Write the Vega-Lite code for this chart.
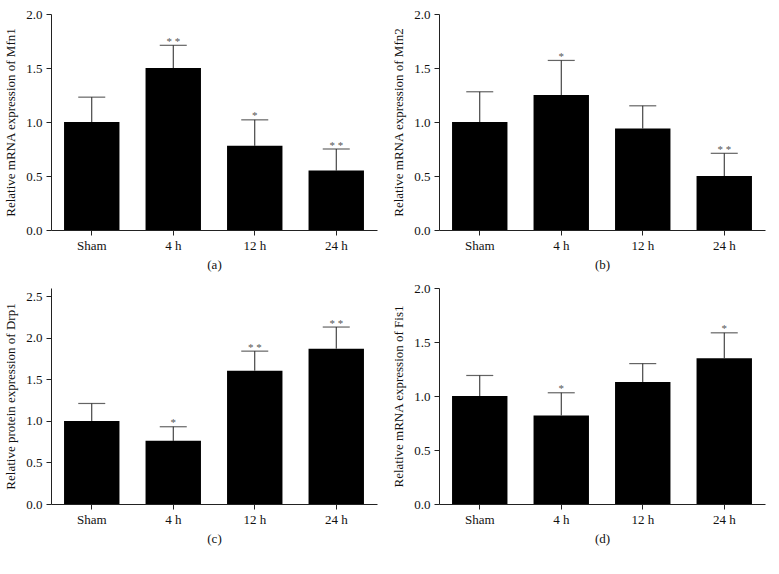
{
  "$schema": "https://vega.github.io/schema/vega-lite/v6.json",
  "background": "white",
  "padding": {"left": 4, "top": 8, "right": 5, "bottom": 5},
  "datasets": {
    "rows": [
      {"panel": "a", "group": "Sham", "value": 1.0, "err": 1.23, "sig": ""},
      {"panel": "a", "group": "4 h", "value": 1.5, "err": 1.71, "sig": "* *"},
      {"panel": "a", "group": "12 h", "value": 0.78, "err": 1.02, "sig": "*"},
      {"panel": "a", "group": "24 h", "value": 0.55, "err": 0.75, "sig": "* *"},
      {"panel": "b", "group": "Sham", "value": 1.0, "err": 1.28, "sig": ""},
      {"panel": "b", "group": "4 h", "value": 1.25, "err": 1.57, "sig": "*"},
      {"panel": "b", "group": "12 h", "value": 0.94, "err": 1.15, "sig": ""},
      {"panel": "b", "group": "24 h", "value": 0.5, "err": 0.71, "sig": "* *"},
      {"panel": "c", "group": "Sham", "value": 1.0, "err": 1.21, "sig": ""},
      {"panel": "c", "group": "4 h", "value": 0.76, "err": 0.93, "sig": "*"},
      {"panel": "c", "group": "12 h", "value": 1.605, "err": 1.84, "sig": "* *"},
      {"panel": "c", "group": "24 h", "value": 1.87, "err": 2.13, "sig": "* *"},
      {"panel": "d", "group": "Sham", "value": 1.0, "err": 1.19, "sig": ""},
      {"panel": "d", "group": "4 h", "value": 0.82, "err": 1.03, "sig": "*"},
      {"panel": "d", "group": "12 h", "value": 1.13, "err": 1.3, "sig": ""},
      {"panel": "d", "group": "24 h", "value": 1.35, "err": 1.585, "sig": "*"}
    ]
  },
  "config": {
    "font": "Liberation Serif",
    "view": {"stroke": null},
    "axis": {
      "grid": false,
      "domainColor": "#222",
      "tickColor": "#222",
      "labelColor": "#111",
      "titleColor": "#111",
      "labelFont": "Liberation Serif",
      "titleFont": "Liberation Serif",
      "labelFontSize": 13,
      "titleFontSize": 13,
      "titleFontWeight": "normal",
      "tickSize": 5,
      "labelPadding": 4,
      "domainWidth": 1,
      "tickWidth": 1
    }
  },
  "spacing": 11,
  "vconcat": [
    {
      "spacing": 15,
      "hconcat": [
        {
          "width": 326, "height": 216,
          "data": {"name": "rows"},
          "transform": [{"filter": "datum.panel == 'a'"}],
          "encoding": {
            "x": {"field": "group", "type": "nominal", "sort": ["Sham", "4 h", "12 h", "24 h"],
                  "scale": {"paddingInner": 0.32, "paddingOuter": 0.16},
                  "axis": {"title": "(a)", "labelAngle": 0, "titlePadding": 6}}
          },
          "layer": [
            {"mark": {"type": "rule", "color": "#222", "strokeWidth": 1},
             "encoding": {"y": {"field": "value", "type": "quantitative"}, "y2": {"field": "err"}}},
            {"mark": {"type": "tick", "orient": "horizontal", "size": 27, "thickness": 1.2, "color": "#222"},
             "encoding": {"y": {"field": "err", "type": "quantitative"}}},
            {"mark": {"type": "bar", "color": "#000"},
             "encoding": {"y": {"field": "value", "type": "quantitative",
                                "scale": {"domain": [0, 2]},
                                "axis": {"title": "Relative mRNA expression of Mfn1", "values": [0, 0.5, 1, 1.5, 2], "format": ".1f", "titlePadding": 8}}}},
            {"mark": {"type": "text", "baseline": "alphabetic", "dy": -0.5, "fontSize": 11, "color": "#555", "font": "Liberation Serif"},
             "encoding": {"y": {"field": "err", "type": "quantitative"}, "text": {"field": "sig"}}}
          ]
        },
        {
          "width": 326, "height": 216,
          "data": {"name": "rows"},
          "transform": [{"filter": "datum.panel == 'b'"}],
          "encoding": {
            "x": {"field": "group", "type": "nominal", "sort": ["Sham", "4 h", "12 h", "24 h"],
                  "scale": {"paddingInner": 0.32, "paddingOuter": 0.16},
                  "axis": {"title": "(b)", "labelAngle": 0, "titlePadding": 6}}
          },
          "layer": [
            {"mark": {"type": "rule", "color": "#222", "strokeWidth": 1},
             "encoding": {"y": {"field": "value", "type": "quantitative"}, "y2": {"field": "err"}}},
            {"mark": {"type": "tick", "orient": "horizontal", "size": 27, "thickness": 1.2, "color": "#222"},
             "encoding": {"y": {"field": "err", "type": "quantitative"}}},
            {"mark": {"type": "bar", "color": "#000"},
             "encoding": {"y": {"field": "value", "type": "quantitative",
                                "scale": {"domain": [0, 2]},
                                "axis": {"title": "Relative mRNA expression of Mfn2", "values": [0, 0.5, 1, 1.5, 2], "format": ".1f", "titlePadding": 8}}}},
            {"mark": {"type": "text", "baseline": "alphabetic", "dy": -0.5, "fontSize": 11, "color": "#555", "font": "Liberation Serif"},
             "encoding": {"y": {"field": "err", "type": "quantitative"}, "text": {"field": "sig"}}}
          ]
        }
      ]
    },
    {
      "spacing": 15,
      "hconcat": [
        {
          "width": 326, "height": 216,
          "data": {"name": "rows"},
          "transform": [{"filter": "datum.panel == 'c'"}],
          "encoding": {
            "x": {"field": "group", "type": "nominal", "sort": ["Sham", "4 h", "12 h", "24 h"],
                  "scale": {"paddingInner": 0.32, "paddingOuter": 0.16},
                  "axis": {"title": "(c)", "labelAngle": 0, "titlePadding": 6}}
          },
          "layer": [
            {"mark": {"type": "rule", "color": "#222", "strokeWidth": 1},
             "encoding": {"y": {"field": "value", "type": "quantitative"}, "y2": {"field": "err"}}},
            {"mark": {"type": "tick", "orient": "horizontal", "size": 27, "thickness": 1.2, "color": "#222"},
             "encoding": {"y": {"field": "err", "type": "quantitative"}}},
            {"mark": {"type": "bar", "color": "#000"},
             "encoding": {"y": {"field": "value", "type": "quantitative",
                                "scale": {"domain": [0, 2.5]},
                                "axis": {"title": "Relative protein expression of Drp1", "values": [0, 0.5, 1, 1.5, 2, 2.5], "format": ".1f", "titlePadding": 8}}}},
            {"mark": {"type": "text", "baseline": "alphabetic", "dy": -0.5, "fontSize": 11, "color": "#555", "font": "Liberation Serif"},
             "encoding": {"y": {"field": "err", "type": "quantitative"}, "text": {"field": "sig"}}}
          ]
        },
        {
          "width": 326, "height": 216,
          "data": {"name": "rows"},
          "transform": [{"filter": "datum.panel == 'd'"}],
          "encoding": {
            "x": {"field": "group", "type": "nominal", "sort": ["Sham", "4 h", "12 h", "24 h"],
                  "scale": {"paddingInner": 0.32, "paddingOuter": 0.16},
                  "axis": {"title": "(d)", "labelAngle": 0, "titlePadding": 6}}
          },
          "layer": [
            {"mark": {"type": "rule", "color": "#222", "strokeWidth": 1},
             "encoding": {"y": {"field": "value", "type": "quantitative"}, "y2": {"field": "err"}}},
            {"mark": {"type": "tick", "orient": "horizontal", "size": 27, "thickness": 1.2, "color": "#222"},
             "encoding": {"y": {"field": "err", "type": "quantitative"}}},
            {"mark": {"type": "bar", "color": "#000"},
             "encoding": {"y": {"field": "value", "type": "quantitative",
                                "scale": {"domain": [0, 2]},
                                "axis": {"title": "Relative mRNA expression of Fis1", "values": [0, 0.5, 1, 1.5, 2], "format": ".1f", "titlePadding": 8}}}},
            {"mark": {"type": "text", "baseline": "alphabetic", "dy": -0.5, "fontSize": 11, "color": "#555", "font": "Liberation Serif"},
             "encoding": {"y": {"field": "err", "type": "quantitative"}, "text": {"field": "sig"}}}
          ]
        }
      ]
    }
  ]
}
